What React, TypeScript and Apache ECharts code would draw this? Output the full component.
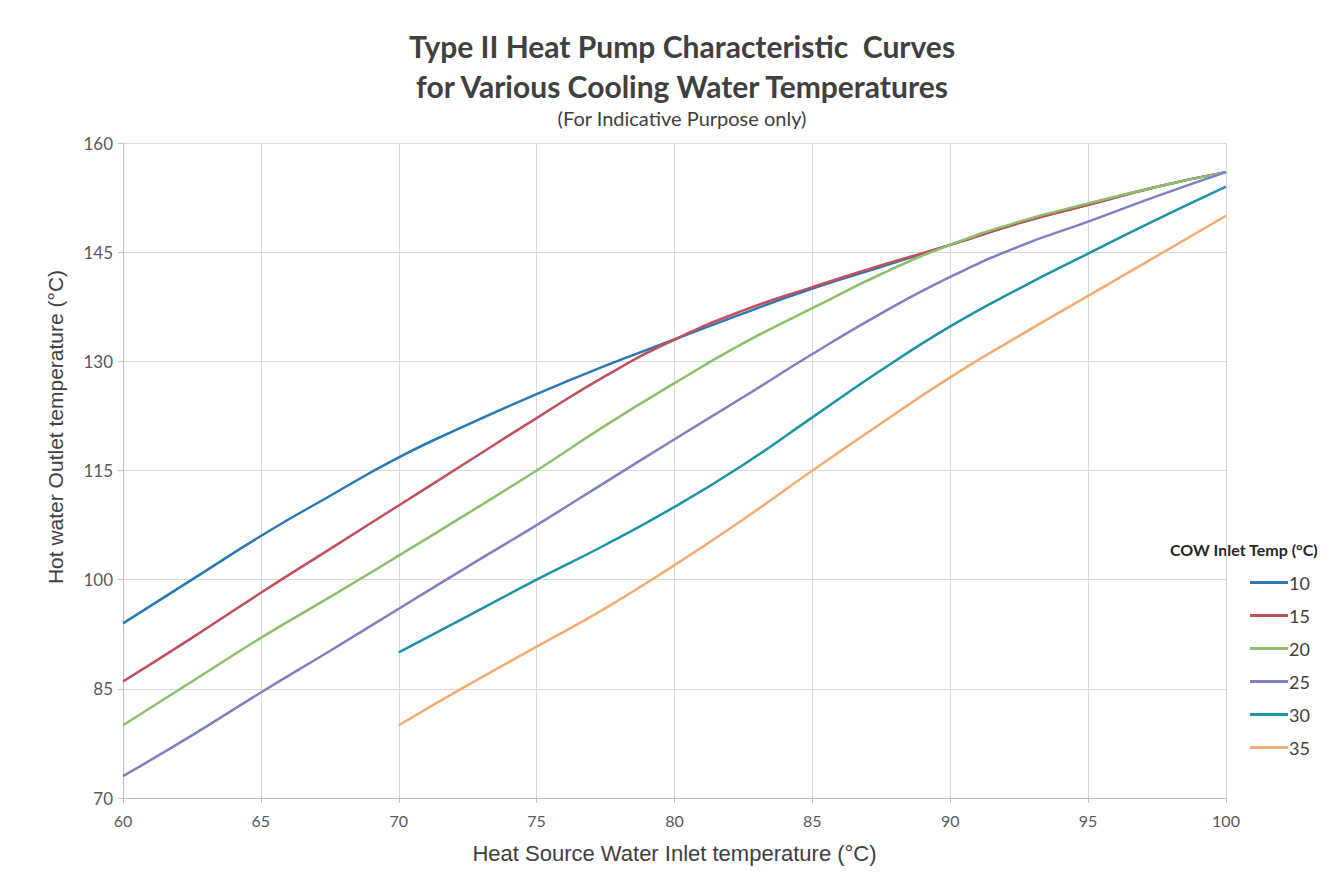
import React, { useEffect, useRef } from "react";
import * as echarts from "echarts";

const xValues = [60, 62.5, 65, 67.5, 70, 72.5, 75, 77.5, 80, 82.5, 85, 87.5, 90, 92.5, 95, 97.5, 100];
const xValuesFrom70 = [70, 72.5, 75, 77.5, 80, 82.5, 85, 87.5, 90, 92.5, 95, 97.5, 100];

const cow10 = [94, 100, 106, 111.5, 116.8, 121.3, 125.5, 129.4, 133, 136.6, 140, 143, 146, 149, 151.5, 154, 156];
const cow15 = [86, 92, 98.2, 104.2, 110.2, 116.2, 122.2, 128, 133, 137, 140.2, 143.2, 146, 149, 151.5, 154, 156];
const cow20 = [80, 86, 92, 97.6, 103.3, 109.1, 115, 121.2, 127, 132.5, 137.3, 142, 146, 149.2, 151.7, 154, 156];
const cow25 = [73, 78.6, 84.5, 90.2, 96, 101.8, 107.5, 113.4, 119.3, 125.1, 131, 136.6, 141.6, 145.8, 149.2, 152.7, 156];
const cow30 = [90, 95, 100, 104.8, 110, 115.8, 122.3, 128.8, 134.8, 140, 144.8, 149.5, 154];
const cow35 = [80, 85.5, 90.8, 96.1, 102, 108.3, 115, 121.5, 127.8, 133.5, 139, 144.5, 150];

const seriesNames = ["10", "15", "20", "25", "30", "35"];
const seriesColors = ["#2a78b4", "#c0505d", "#8fbf6a", "#7c82c0", "#1e93a6", "#f6ab72"];

const pair = (xs: number[], ys: number[]) => xs.map((x, i) => [x, ys[i]]);

export default function App() {
  const ref = useRef<HTMLDivElement>(null);
  useEffect(() => {
    if (!ref.current) return;
    const chart = echarts.init(ref.current, null, { renderer: "svg" });
    const dataSets = [
      pair(xValues, cow10),
      pair(xValues, cow15),
      pair(xValues, cow20),
      pair(xValues, cow25),
      pair(xValuesFrom70, cow30),
      pair(xValuesFrom70, cow35),
    ];
    chart.setOption({
      animation: false,
      backgroundColor: "#ffffff",
      title: {
        text: "Type II Heat Pump Characteristic  Curves\nfor Various Cooling Water Temperatures",
        subtext: "(For Indicative Purpose only)",
        left: 677,
        top: 21,
        textAlign: "center",
        itemGap: 2,
        textStyle: {
          fontFamily: "Lato",
          fontWeight: "bold",
          fontSize: 30,
          lineHeight: 40,
          color: "#404040",
        },
        subtextStyle: {
          fontFamily: "Lato",
          fontSize: 20,
          color: "#404040",
        },
      },
      grid: { left: 123, right: 101, top: 143, bottom: 81, containLabel: false },
      legend: {
        orient: "vertical",
        left: 1245,
        top: 567,
        data: seriesNames,
        icon: "rect",
        itemWidth: 38,
        itemHeight: 3,
        itemGap: 12,
        textStyle: { fontFamily: "Lato", fontSize: 18, color: "#404040", lineHeight: 21, padding: [0, 0, 0, -4] },
      },
      graphic: [
        {
          type: "text",
          left: 1170,
          top: 541,
          style: {
            text: "COW Inlet Temp (°C)",
            fontFamily: "Lato",
            fontWeight: "bold",
            fontSize: 16,
            fill: "#262626",
          },
        },
        {
          type: "text",
          x: 55,
          y: 427,
          rotation: Math.PI / 2,
          style: {
            text: "Hot water Outlet temperature (°C)",
            fontFamily: "Liberation Sans",
            fontSize: 21,
            fill: "#404040",
            align: "center",
            verticalAlign: "middle",
          },
        },
      ],
      xAxis: {
        type: "value",
        min: 60,
        max: 100,
        interval: 5,
        name: "Heat Source Water Inlet temperature (°C)",
        nameLocation: "middle",
        nameGap: 44,
        nameTextStyle: { fontFamily: "Liberation Sans", fontSize: 22, color: "#404040" },
        axisLine: { show: true, lineStyle: { color: "#bfbfbf" } },
        axisTick: { show: true, length: 5, lineStyle: { color: "#bfbfbf" } },
        axisLabel: { fontFamily: "Lato", fontSize: 16, color: "#595959", margin: 14 },
        splitLine: { show: true, lineStyle: { color: "#d9d9d9" } },
      },
      yAxis: {
        type: "value",
        min: 70,
        max: 160,
        interval: 15,
        axisLine: { show: true, lineStyle: { color: "#bfbfbf" } },
        axisTick: { show: true, length: 5, lineStyle: { color: "#bfbfbf" } },
        axisLabel: { fontFamily: "Lato", fontSize: 17, color: "#595959", margin: 10 },
        splitLine: { show: true, lineStyle: { color: "#d9d9d9" } },
      },
      series: seriesNames.map((name, i) => ({
        name,
        type: "line",
        data: dataSets[i],
        smooth: true,
        symbol: "none",
        lineStyle: { width: 2.5, color: seriesColors[i] },
        itemStyle: { color: seriesColors[i] },
      })),
    });
    return () => chart.dispose();
  }, []);
  return (
    <div
      ref={ref}
      style={{ position: "absolute", left: 0, top: 0, width: 1327, height: 879 }}
    />
  );
}
